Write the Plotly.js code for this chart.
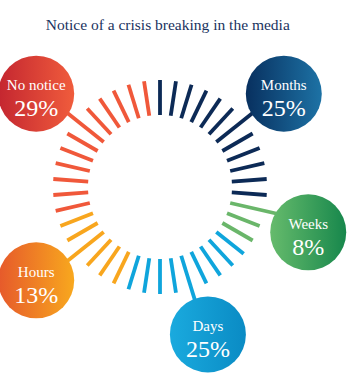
<!DOCTYPE html>
<html>
<head>
<meta charset="utf-8">
<script src="https://cdn.plot.ly/plotly-3.0.1.min.js"></script>
<style>html,body{margin:0;padding:0;background:#fff;}#chart{width:360px;height:385px;}</style>
</head>
<body>
<div id="chart"></div>
<script>
// ---- data ----
const categories = ['Months', 'Weeks', 'Days', 'Hours', 'No notice'];
const percents   = [25, 8, 25, 13, 29];
const tickCounts = [12, 3, 9, 6, 12];
const titleText  = 'Notice of a crisis breaking in the media';

// ---- styles / layout config ----
const tickColors = ['#0c2a56', '#6ab66a', '#0fa5dc', '#f8a61e', '#f0583a'];
const badgeLeft  = ['#08305f', '#66bb6c', '#1aaade', '#e6592b', '#c42630'];
const badgeRight = ['#1d72a5', '#17874c', '#0a8bc4', '#f8a81e', '#f05c3c'];
const badgeTheta = [53, 107, 162, 233, 307];
const badgeR = 155, innerR = 72, outerR = 107;
const serif = 'Liberation Serif, DejaVu Serif, serif';

const total = tickCounts.reduce((a, b) => a + b, 0);
const step = 360 / total;
const traces = [];
let k = 0;
categories.forEach((cat, i) => {
  const r = [], th = [];
  const angles = [];
  for (let j = 0; j < tickCounts[i]; j++) { angles.push((k + j) * step); }
  // nearest tick to badge becomes the connector
  let best = 0;
  angles.forEach((a, j) => { if (Math.abs(a - badgeTheta[i]) < Math.abs(angles[best] - badgeTheta[i])) best = j; });
  angles.forEach((a, j) => {
    r.push(innerR, j === best ? badgeR : outerR, null);
    th.push(a, a, null);
  });
  k += tickCounts[i];
  traces.push({
    type: 'scatterpolar', mode: 'lines', r: r, theta: th,
    line: {color: tickColors[i], width: 3.8}, connectgaps: false,
    hoverinfo: 'skip', showlegend: false, cliponaxis: false
  });
});

categories.forEach((cat, i) => {
  traces.push({
    type: 'scatterpolar', mode: 'markers',
    r: [badgeR], theta: [badgeTheta[i]],
    marker: {size: 76, color: badgeLeft[i], line: {width: 0},
             gradient: {type: 'horizontal', color: badgeRight[i]}},
    cliponaxis: false, showlegend: false, hoverinfo: 'skip'
  });
});

// labels above centre, percentages below centre
traces.push({
  type: 'scatterpolar', mode: 'text',
  r: categories.map(() => badgeR), theta: badgeTheta,
  text: categories, textposition: 'top center',
  textfont: {family: serif, size: 15, color: '#ffffff'},
  cliponaxis: false, showlegend: false, hoverinfo: 'skip'
});
traces.push({
  type: 'scatterpolar', mode: 'markers+text',
  r: categories.map(() => badgeR), theta: badgeTheta,
  text: percents.map(p => p + '%'), textposition: 'bottom center',
  marker: {size: 6, opacity: 0},
  textfont: {family: serif, size: 24, color: '#ffffff'},
  cliponaxis: false, showlegend: false, hoverinfo: 'skip'
});

const W = 360, H = 385, cx = 160, cy = 187, R = 160;
const layout = {
  width: W, height: H,
  margin: {l: 0, r: 0, t: 0, b: 0},
  paper_bgcolor: '#ffffff', plot_bgcolor: '#ffffff',
  title: {text: titleText, font: {family: serif, size: 15.5, color: '#1a3360'},
          x: 0.466, xanchor: 'center', y: 1 - 25 / H, yanchor: 'middle'},
  polar: {
    domain: {x: [(cx - R) / W, (cx + R) / W], y: [(H - cy - R) / H, (H - cy + R) / H]},
    bgcolor: 'rgba(0,0,0,0)',
    radialaxis: {visible: false, range: [0, R]},
    angularaxis: {visible: false, rotation: 90, direction: 'clockwise'}
  }
};

Plotly.newPlot('chart', traces, layout, {displayModeBar: false, staticPlot: true});
</script>
</body>
</html>
